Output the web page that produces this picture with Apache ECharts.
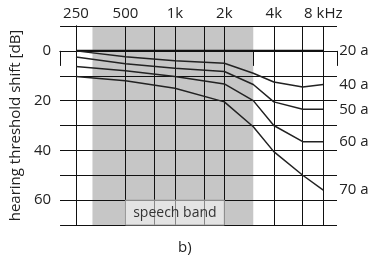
<!DOCTYPE html>
<html>
<head>
<meta charset="utf-8">
<script src="https://cdn.jsdelivr.net/npm/echarts@6/dist/echarts.min.js"></script>
<style>
    html, body { margin: 0; padding: 0; background: #fff; }
    #chart { width: 375px; height: 263px; }
</style>
</head>
<body>
<div id="chart"></div>
<script>
// frequencies (Hz) of the curve points
const freqs = [250, 500, 1000, 2000, 3000, 4000, 6000, 8000]
// hearing threshold shift [dB] per age
const age20 = [0, 0, 0, 0, 0, 0, 0, 0]
const age40 = [0, 2.4, 4, 5, 9, 12.5, 14.5, 13.5]
const age50 = [2.5, 5.2, 7, 8.3, 13.5, 20.5, 23.5, 23.5]
const age60 = [6.3, 8, 10.3, 13.3, 20, 30, 36.5, 36.5]
const age70 = [10.3, 12, 15, 20.5, 30.5, 40.5, 50, 56]
const ageNames = ['20 a', '40 a', '50 a', '60 a', '70 a']

// axis
const freqMin = 200
const freqMax = 9700
const tickFreqs = [200, 250, 500, 750, 1000, 1500, 2000, 3000, 4000, 6000, 8000, 9700]
const gridFreqs = [250, 500, 750, 1000, 1500, 2000, 4000, 6000, 8000]
const gridDb = [0, 10, 20, 30, 40, 50, 60]
const labelFreqs = [250, 500, 1000, 2000, 4000, 8000]
const labelTexts = ['250', '500', '1k', '2k', '4k', '8 kHz']
const dbLabels = [0, 20, 40, 60]
const speechBand = [315, 3000]
const speechBox = [500, 2000]

const FONT = 'Open Sans'
const TXT = '#222'

// octave position relative to 250 Hz
const oct = (f) => Math.log2(f / 250)

const mk = (vals) => freqs.map((f, i) => [oct(f), vals[i]])

const chart = echarts.init(document.getElementById('chart'))

const lineBase = {
    type: 'line',
    showSymbol: false,
    symbol: 'none',
    silent: true,
    animation: false,
    lineStyle: { color: '#222', width: 1.5 },
    endLabel: {
        show: true,
        formatter: (p) => p.seriesName,
        distance: 16,
        color: TXT,
        fontFamily: FONT,
        fontSize: 15
    }
}

const series = [age20, age40, age50, age60, age70].map((vals, i) => {
    const s = Object.assign({}, lineBase, {
        name: ageNames[i],
        data: mk(vals),
        z: 6
    })
    if (i === 0) {
        s.lineStyle = { color: '#111', width: 2.2 }
    }
    return s
})

// speech band shading
series.push({
    type: 'line',
    name: 'band',
    data: [],
    silent: true,
    animation: false,
    z: 1,
    markArea: {
        silent: true,
        animation: false,
        z: 1,
        itemStyle: { color: '#c6c6c6' },
        data: [
            [
                { xAxis: oct(speechBand[0]), yAxis: -10 },
                { xAxis: oct(speechBand[1]), yAxis: 70 }
            ]
        ]
    }
})

// horizontal grid lines, drawn over the shading
series.push({
    type: 'line',
    name: 'hgrid',
    data: [],
    silent: true,
    animation: false,
    z: 4,
    markLine: {
        silent: true,
        animation: false,
        z: 4,
        symbol: ['none', 'none'],
        label: { show: false },
        lineStyle: { color: '#111', width: 1, type: 'solid' },
        emphasis: { disabled: true },
        data: gridDb.map((v) => ({ yAxis: v }))
    }
})

// speech band label box (above the grid lines)
series.push({
    type: 'line',
    name: 'bandLabel',
    data: [],
    silent: true,
    animation: false,
    z: 5,
    markArea: {
        silent: true,
        animation: false,
        z: 5,
        itemStyle: {
            color: 'rgba(255,255,255,0.5)',
            borderColor: '#a0a0a0',
            borderWidth: 1
        },
        label: {
            show: true,
            position: 'inside',
            color: '#333',
            fontFamily: FONT,
            fontSize: 14
        },
        data: [
            [
                { name: 'speech band', xAxis: oct(speechBox[0]), yAxis: 60 },
                { xAxis: oct(speechBox[1]), yAxis: 70 }
            ]
        ]
    }
})

const option = {
    animation: false,
    grid: { left: 57, right: 38, top: 26, bottom: 38 },
    graphic: [
        {
            type: 'text',
            left: 178,
            top: 240,
            style: { text: 'b)', fill: TXT, font: '15px "Open Sans"' }
        }
    ],
    xAxis: [
        {
            type: 'value',
            position: 'bottom',
            z: 3,
            min: oct(freqMin),
            max: oct(freqMax),
            axisLine: { show: true, lineStyle: { color: '#111', width: 1 } },
            axisTick: {
                show: true,
                customValues: tickFreqs.map(oct),
                length: 15,
                lineStyle: { color: '#111', width: 1 }
            },
            axisLabel: { show: false },
            splitLine: { show: false }
        },
        {
            type: 'value',
            position: 'top',
            z: 3,
            min: oct(freqMin),
            max: oct(freqMax),
            axisLine: { show: true, lineStyle: { color: '#111', width: 1 } },
            axisTick: { show: false, customValues: gridFreqs.map(oct) },
            axisLabel: {
                show: true,
                customValues: labelFreqs.map(oct),
                formatter: (v) => {
                    const i = labelFreqs.findIndex((f) => Math.abs(oct(f) - v) < 1e-6)
                    return i >= 0 ? labelTexts[i] : ''
                },
                margin: 5,
                color: TXT,
                fontFamily: FONT,
                fontSize: 15
            },
            splitLine: { show: true, lineStyle: { color: '#111', width: 1 } }
        }
    ],
    yAxis: [
        {
            type: 'value',
            inverse: true,
            z: 3,
            min: -10,
            max: 70,
            interval: 10,
            name: 'hearing threshold shift [dB]',
            nameLocation: 'middle',
            nameGap: 33,
            nameTextStyle: { color: TXT, fontFamily: FONT, fontSize: 15 },
            axisLine: { show: true, lineStyle: { color: '#111', width: 1 } },
            axisTick: { show: false },
            axisLabel: {
                formatter: (v) => (dbLabels.indexOf(v) >= 0 ? String(v) : ''),
                margin: 9,
                color: TXT,
                fontFamily: FONT,
                fontSize: 15
            },
            splitLine: { show: true, lineStyle: { color: '#111', width: 1 } }
        },
        {
            type: 'value',
            position: 'right',
            inverse: true,
            z: 3,
            min: -10,
            max: 70,
            interval: 10,
            axisLine: { show: true, lineStyle: { color: '#111', width: 1 } },
            axisTick: { show: false },
            axisLabel: { show: false },
            splitLine: { show: false }
        }
    ],
    series: series
}

chart.setOption(option)
</script>
</body>
</html>
